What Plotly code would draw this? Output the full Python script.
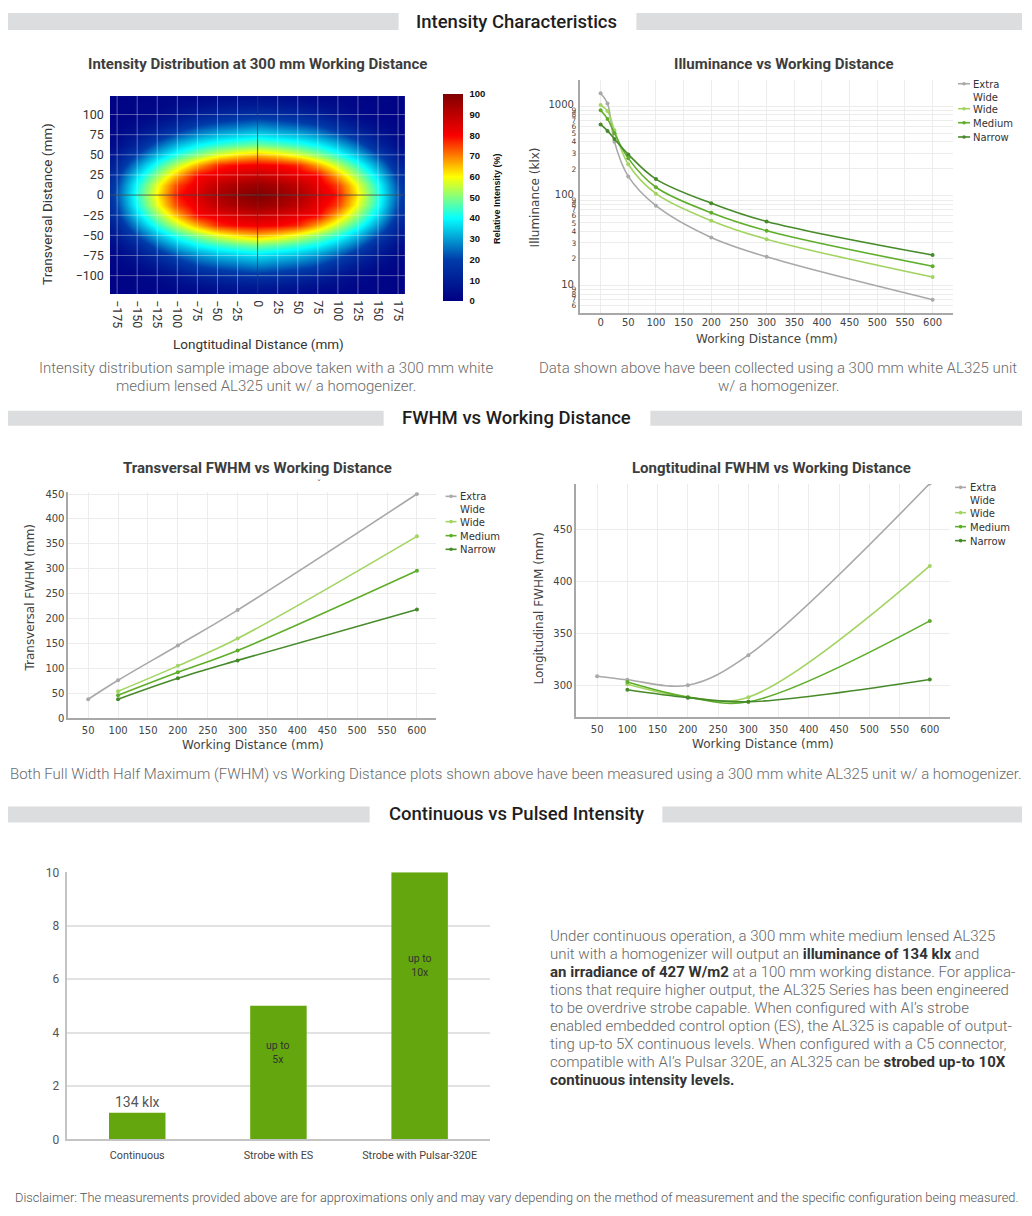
import numpy as np
import plotly.graph_objects as go

# page is 1032x1216; the browser body keeps its 8px margin, so the figure is 1016x1200
PAGE_W, PAGE_H = 1032, 1216
OFF = 8
W, H = PAGE_W - 2 * OFF, PAGE_H - 2 * OFF
# measured vertical calibration of the photographed page: seen_y = 6 + 0.9892 * page_y
CAL_A, CAL_B = 6.0, 0.9892

# ---------------- data ----------------
# Intensity distribution (one quadrant, mirrored, %)
heat_x_half = [0, 25, 50, 75, 100, 125, 150, 175, 200]
heat_y_half = [0, 12.5, 25, 37.5, 50, 62.5, 75, 87.5, 100, 112.5, 125]
heat_quadrant = [
    [100, 97, 93, 86, 78, 61, 43, 23, 7],
    [96, 94, 90, 83, 75, 58, 41, 21, 6],
    [88, 86, 83, 80, 66, 51, 36, 18, 5],
    [81, 80, 77, 67, 55, 43, 29, 13, 4],
    [66, 63, 58, 51, 43, 33, 21, 9, 3],
    [49, 47, 44, 40, 33, 24, 13, 5, 2],
    [37, 35, 33, 29, 23, 15, 8, 3, 2],
    [27, 25, 23, 20, 14, 8, 4, 2, 1],
    [17, 16, 14, 11, 7, 4, 2, 1, 1],
    [9, 8, 7, 5, 4, 2, 2, 1, 1],
    [4, 4, 3, 2, 2, 2, 1, 1, 1],
]
heat_x_ticks = list(range(-175, 176, 25))
heat_y_ticks = list(range(-100, 101, 25))

series_names = ["Extra<br>Wide", "Wide", "Medium", "Narrow"]

# Illuminance (klx) vs working distance (mm)
illum_wd = [0, 12.5, 25, 50, 100, 200, 300, 600]
illum_extra_wide = [1390, 1070, 400, 165, 78, 34.5, 21, 7]
illum_wide = [1030, 880, 540, 225, 106, 53, 33, 12.5]
illum_medium = [900, 720, 500, 262, 125, 65, 41, 16.5]
illum_narrow = [625, 530, 430, 290, 154, 83, 52, 22]

# Transversal FWHM (mm)
trans_wd_extra = [50, 100, 200, 300, 600]
trans_wd = [100, 200, 300, 600]
trans_extra_wide = [38, 76, 146, 217, 450]
trans_wide = [54, 105, 160, 365]
trans_medium = [46, 92, 136, 296]
trans_narrow = [38, 80, 116, 218]

# Longitudinal FWHM (mm)
long_wd_extra = [50, 100, 200, 300, 600]
long_wd = [100, 200, 300, 600]
long_extra_wide = [308.7, 305.2, 300, 329, 494.5]
long_wide = [301, 288.5, 288.5, 415]
long_medium = [303, 288.5, 284, 362]
long_narrow = [295.6, 288, 284, 305.5]

# Continuous vs pulsed
bar_categories = ["Continuous", "Strobe with ES", "Strobe with Pulsar-320E"]
bar_values = [1, 5, 10]
bar_labels = ["134 klx", "up to<br>5x", "up to<br>10x"]

# ---------------- helpers (target pixels -> paper) ----------------
def fx(px):
    return (px - OFF) / W

def fy(py):
    page = (py - CAL_A) / CAL_B
    return 1 - (page - OFF) / H

def xdom(a, b):
    return [fx(a), fx(b)]

def ydom(top, bottom):
    return [fy(bottom), fy(top)]

COLORS = ["#a9a9a9", "#a3d462", "#5fae2a", "#478a2a"]
AXF = "DejaVu Sans"
ROB = "Roboto"

fig = go.Figure()
shapes = []
annotations = []

def text_at(text, px, py, size, color, family=ROB, weight="normal", xanchor="center",
            yanchor="middle", align="center", angle=0):
    annotations.append(dict(text=text, x=fx(px), y=fy(py), xref="paper", yref="paper",
                            showarrow=False, xanchor=xanchor, yanchor=yanchor, align=align,
                            textangle=angle,
                            font=dict(family=family, size=size, color=color, weight=weight)))

# ---------------- heatmap ----------------
q = np.array(heat_quadrant, dtype=float)
full = np.vstack([q[:0:-1], q])
full = np.hstack([full[:, :0:-1], full])
hx = [-v for v in heat_x_half[:0:-1]] + heat_x_half
hy = [-v for v in heat_y_half[:0:-1]] + heat_y_half

fig.add_trace(go.Heatmap(
    x=hx, y=hy, z=full, zmin=0, zmax=100, zsmooth="best",
    colorscale="Jet", xaxis="x", yaxis="y", showscale=True, hoverinfo="skip",
    colorbar=dict(
        x=fx(443), xanchor="left", y=fy(196.5), yanchor="middle",
        len=fy(93) - fy(300), lenmode="fraction", thickness=20, thicknessmode="pixels",
        xpad=0, ypad=0, outlinewidth=0, ticks="outside", ticklen=5,
        tickcolor="rgba(0,0,0,0)",
        tickvals=list(range(0, 101, 10)),
        tickfont=dict(family="Liberation Sans", size=9.5, color="#111", weight="bold"),
    ),
))
# grid lines drawn over the heatmap at the tick positions
for v in heat_x_ticks:
    shapes.append(dict(type="line", xref="x", yref="y domain", x0=v, x1=v, y0=0, y1=1,
                       line=dict(color="rgba(255,255,255,0.35)", width=1), layer="above"))
for v in heat_y_ticks:
    shapes.append(dict(type="line", xref="x domain", yref="y", x0=0, x1=1, y0=v, y1=v,
                       line=dict(color="rgba(255,255,255,0.35)", width=1), layer="above"))
shapes.append(dict(type="line", xref="x", yref="y domain", x0=0, x1=0, y0=0, y1=1,
                   line=dict(color="rgba(0,0,0,0.6)", width=1), layer="above"))
shapes.append(dict(type="line", xref="x domain", yref="y", x0=0, x1=1, y0=0, y1=0,
                   line=dict(color="rgba(0,0,0,0.6)", width=1), layer="above"))

text_at("Relative Intensity (%)", 498, 197.5, 9, "#111", family="Liberation Sans",
        weight="bold", angle=-90)
text_at("Longtitudinal Distance (mm)", 259, 343, 13.5, "#333")
text_at("Transversal Distance (mm)", 47, 203, 13.5, "#333", angle=-90)

# ---------------- line charts ----------------
def add_lines(xs_list, ys_list, xa, ya):
    for name, color, xs, ys in zip(series_names, COLORS, xs_list, ys_list):
        fig.add_trace(go.Scatter(
            x=xs, y=ys, name=name, mode="lines+markers", showlegend=False,
            line=dict(color=color, width=1.6, shape="spline", smoothing=1),
            marker=dict(size=4, color=color),
            xaxis=xa, yaxis=ya, hoverinfo="skip",
        ))

add_lines([illum_wd] * 4,
          [illum_extra_wide, illum_wide, illum_medium, illum_narrow], "x2", "y2")
add_lines([trans_wd_extra, trans_wd, trans_wd, trans_wd],
          [trans_extra_wide, trans_wide, trans_medium, trans_narrow], "x3", "y3")
add_lines([long_wd_extra, long_wd, long_wd, long_wd],
          [long_extra_wide, long_wide, long_medium, long_narrow], "x4", "y4")

def legend_block(sx0, sx1, tx, ys):
    for name, color, yy in zip(series_names, COLORS, ys):
        shapes.append(dict(type="line", xref="paper", yref="paper",
                           x0=fx(sx0), x1=fx(sx1), y0=fy(yy), y1=fy(yy),
                           line=dict(color=color, width=1.6)))
        cx = (sx0 + sx1) / 2
        shapes.append(dict(type="circle", xref="paper", yref="paper",
                           x0=fx(cx - 1.8), x1=fx(cx + 1.8), y0=fy(yy + 1.8), y1=fy(yy - 1.8),
                           fillcolor=color, line=dict(width=0)))
        text_at(name, tx, yy - 7, 10, "#333", family=AXF, xanchor="left", yanchor="top",
                align="left")

legend_block(959, 971, 972, [82.7, 107.7, 121.7, 136])
legend_block(446, 457, 458.5, [495.7, 521, 535, 548.7])
legend_block(956, 967, 968.5, [486.7, 512, 526, 540])

AT = "#444"
text_at("Working Distance (mm)", 767.5, 338.5, 12, AT, family=AXF)
text_at("Illuminance (klx)", 535, 196, 12, AT, family=AXF, angle=-90)
text_at("Working Distance (mm)", 253, 745, 12, AT, family=AXF)
text_at("Transversal FWHM (mm)", 30, 597, 12, AT, family=AXF, angle=-90)
text_at("Working Distance (mm)", 764, 744, 12, AT, family=AXF)
text_at("Longitudinal FWHM (mm)", 539.5, 608, 12, AT, family=AXF, angle=-90)
text_at("ˇ", 319, 483, 9, "#555")

# ---------------- bar chart ----------------
fig.add_trace(go.Bar(
    x=bar_categories, y=bar_values, width=0.4, marker=dict(color="#64a60d", line=dict(width=0)),
    text=[bar_labels[0], "", ""], textposition=["outside", "none", "none"],
    textfont=dict(family=ROB, size=14, color="#555"), cliponaxis=False,
    xaxis="x5", yaxis="y5", showlegend=False, hoverinfo="skip",
))
for cat, val, lab in zip(bar_categories[1:], bar_values[1:], bar_labels[1:]):
    annotations.append(dict(text=lab, x=cat, y=val * 0.65, xref="x5", yref="y5",
                            showarrow=False, font=dict(family=ROB, size=10.5, color="#333")))

# ---------------- axes ----------------
def line_axis(domain, rng, anchor, **kw):
    d = dict(domain=domain, range=rng, anchor=anchor, showgrid=True, gridcolor="#ececec",
             gridwidth=1, zeroline=False, showline=True, linecolor="#a8a8a8", linewidth=1.5,
             ticks="", tickfont=dict(family=AXF, size=10, color="#444"))
    d.update(kw)
    return d

heat_axis = dict(showgrid=False, zeroline=False, showline=False, ticks="",
                 tickfont=dict(family=ROB, size=12.5, color="#333"))

fig.update_layout(
    width=W, height=H, margin=dict(l=0, r=0, t=0, b=0),
    paper_bgcolor="white", plot_bgcolor="white", showlegend=False,
    xaxis=dict(domain=xdom(110, 405.7), range=[-184, 184], anchor="y",
               tickvals=heat_x_ticks, tickangle=90, ticklabelstandoff=5, **heat_axis),
    yaxis=dict(domain=ydom(95, 293.3), range=[-123, 123], anchor="x",
               tickvals=heat_y_ticks, ticklabelstandoff=5, **heat_axis),
    xaxis2=line_axis(xdom(580.7, 954), [-37, 637], "y2", dtick=50, tick0=0),
    yaxis2=line_axis(ydom(79.3, 311.7), [0.702, 3.287], "x2", type="log", dtick="D1"),
    xaxis3=line_axis(xdom(68.3, 436.7), [16.6, 632.4], "y3", dtick=50, tick0=0,
                     ticklabelstandoff=2),
    yaxis3=line_axis(ydom(491.7, 717.7), [0, 453.3], "x3", dtick=50),
    xaxis4=line_axis(xdom(576.7, 950.7), [15.3, 633], "y4", dtick=50, tick0=0,
                     ticklabelstandoff=2),
    yaxis4=line_axis(ydom(483.3, 716.7), [269.2, 494], "x4", dtick=50, tick0=0),
    xaxis5=dict(domain=xdom(66.7, 490.7), anchor="y5", showline=True, linecolor="#c4c4c4",
                linewidth=1.5, ticks="", ticklabelstandoff=5,
                tickfont=dict(family=ROB, size=10.8, color="#444")),
    yaxis5=dict(domain=ydom(872, 1139.3), range=[0, 10], anchor="x5", dtick=2,
                showgrid=True, gridcolor="#e2e2e2", gridwidth=1.5, zeroline=False,
                showline=True, linecolor="#c4c4c4", linewidth=2, ticks="", ticklabelstandoff=3,
                tickfont=dict(family=ROB, size=12, color="#555")),
    bargap=0.6,
)

# ---------------- section headers / captions ----------------
def header(text, cy, left_end, right_start, top, bottom):
    for a, b in ((8, left_end), (right_start, 1023)):
        shapes.append(dict(type="rect", xref="paper", yref="paper",
                           x0=fx(a), x1=fx(b), y0=fy(bottom), y1=fy(top),
                           fillcolor="#dcdddf", line=dict(width=0), layer="below"))
    text_at(text, 517, cy, 18.5, "#1e1e1e", weight=500)

header("Intensity Characteristics", 21, 399, 637, 12, 29)
header("FWHM vs Working Distance", 417, 384, 651, 410, 425)
header("Continuous vs Pulsed Intensity", 814, 370, 663, 806, 822)

TT = "#3d3d3d"
text_at("Intensity Distribution at 300 mm Working Distance", 258, 63, 15, TT, weight="bold")
text_at("Illuminance vs Working Distance", 785, 63, 15, TT, weight="bold")
text_at("Transversal FWHM vs Working Distance", 258, 467, 15, TT, weight="bold")
text_at("Longtitudinal FWHM vs Working Distance", 772, 467, 15, TT, weight="bold")

CAP = "#6a6a6a"
text_at("Intensity distribution sample image above taken with a 300 mm white", 266, 367, 15, CAP, weight=300)
text_at("medium lensed AL325 unit w/ a homogenizer.", 266, 385, 15, CAP, weight=300)
text_at("Data shown above have been collected using a 300 mm white AL325 unit", 779, 367, 15, CAP, weight=300)
text_at("w/ a homogenizer.", 779, 385, 15, CAP, weight=300)
text_at("Both Full Width Half Maximum (FWHM) vs Working Distance plots shown above have been "
        "measured using a 300 mm white AL325 unit w/ a homogenizer.", 516, 774, 15, CAP, weight=300)
text_at("Disclaimer: The measurements provided above are for approximations only and may vary "
        "depending on the method of measurement and the specific configuration being measured.",
        517, 1197, 12.8, "#555", weight=300)

B = lambda s: "<span style='color:#333'><b>" + s + "</b></span>"
para_lines = [
    "Under continuous operation, a 300 mm white medium lensed AL325",
    "unit with a homogenizer will output an " + B("illuminance of 134 klx") + " and",
    B("an irradiance of 427 W/m2") + " at a 100 mm working distance. For applica-",
    "tions that require higher output, the AL325 Series has been engineered",
    "to be overdrive strobe capable. When configured with AI’s strobe",
    "enabled embedded control option (ES), the AL325 is capable of output-",
    "ting up-to 5X continuous levels. When configured with a C5 connector,",
    "compatible with AI’s Pulsar 320E, an AL325 can be " + B("strobed up-to 10X"),
    B("continuous intensity levels."),
]
for i, line in enumerate(para_lines):
    text_at(line, 549, 936 + 18 * i, 15, "#666", xanchor="left", align="left", weight=300)

fig.update_layout(shapes=shapes, annotations=annotations)

fig.write_html("out.html", config={"displayModeBar": False})
